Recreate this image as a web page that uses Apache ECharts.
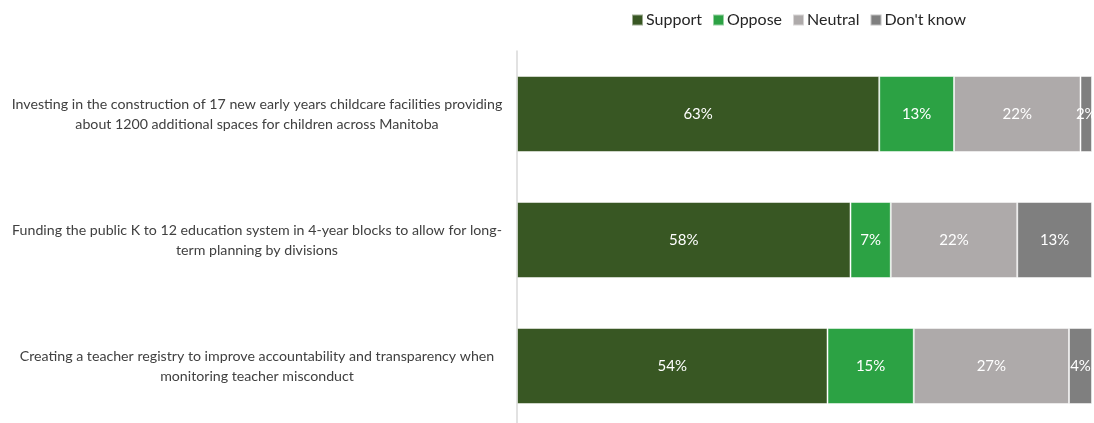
<!DOCTYPE html>
<html>
<head>
<meta charset="utf-8">
<script src="https://cdn.jsdelivr.net/npm/echarts@6/dist/echarts.min.js"></script>
<style>
html,body{margin:0;padding:0;background:#fff;}
#chart{width:1094px;height:423px;}
</style>
</head>
<body>
<div id="chart"></div>
<script>
const categories = [
  "Investing in the construction of 17 new early years childcare facilities providing\nabout 1200 additional spaces for children across Manitoba",
  "Funding the public K to 12 education system in 4-year blocks to allow for long-\nterm planning by divisions",
  "Creating a teacher registry to improve accountability and transparency when\nmonitoring teacher misconduct"
];
const seriesNames = ["Support", "Oppose", "Neutral", "Don't know"];
const support = [63, 58, 54];
const oppose = [13, 7, 15];
const neutral = [22, 22, 27];
const dontKnow = [2, 13, 4];
const colors = ["#385723", "#2ca244", "#aeaaaa", "#7f7f7f"];

const values = [support, oppose, neutral, dontKnow];
const FONT = "Lato, 'Open Sans', sans-serif";

const chart = echarts.init(document.getElementById('chart'));
chart.setOption({
  animation: false,
  textStyle: { fontFamily: FONT },
  legend: {
    top: 7,
    left: 626,
    itemWidth: 11,
    itemHeight: 11,
    itemGap: 10,
    icon: 'rect',
    textStyle: { fontSize: 16, color: '#262626', fontFamily: FONT, padding: [0, 0, 0, -2] },
    data: seriesNames
  },
  grid: { left: 517, top: 51, height: 378, right: 2, containLabel: false, outerBoundsMode: 'none' },
  xAxis: {
    type: 'value',
    min: 0,
    max: 100,
    show: false
  },
  yAxis: {
    type: 'category',
    inverse: true,
    data: categories,
    axisLine: { show: true, lineStyle: { color: '#d9d9d9', width: 1.5 } },
    axisTick: { show: false },
    axisLabel: {
      align: 'center',
      margin: 260,
      fontSize: 14.2,
      lineHeight: 20,
      color: '#404040',
      fontFamily: FONT
    }
  },
  series: values.map((arr, i) => ({
    name: seriesNames[i],
    type: 'bar',
    stack: 'total',
    barWidth: 76,
    data: arr,
    itemStyle: { color: colors[i], borderColor: 'rgba(255,255,255,0.5)', borderWidth: 1 },
    label: {
      show: true,
      position: 'inside',
      formatter: '{c}%',
      color: '#ffffff',
      fontSize: 15,
      fontFamily: FONT
    }
  }))
});
</script>
</body>
</html>
